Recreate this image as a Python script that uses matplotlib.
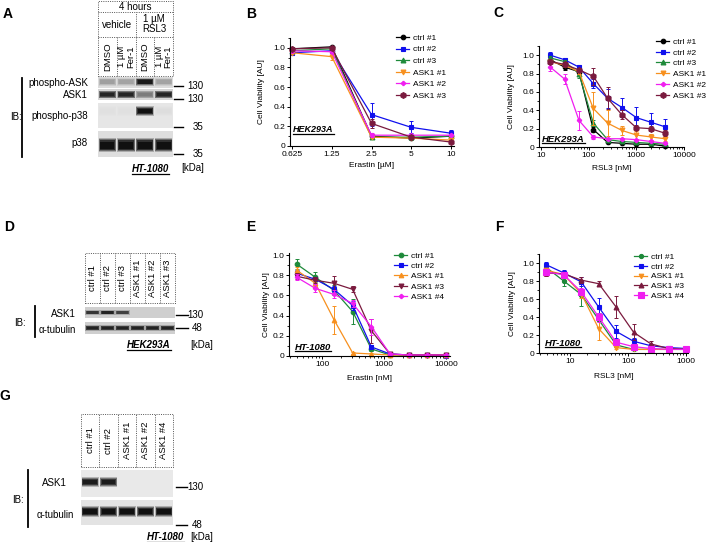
import matplotlib
matplotlib.use("Agg")
import matplotlib.pyplot as plt
import numpy as np
from matplotlib.colors import to_rgb
from matplotlib.ticker import FixedFormatter, FixedLocator, LogLocator, MultipleLocator, NullLocator

plt.rcParams["font.family"] = ["Liberation Sans", "DejaVu Sans"]
plt.rcParams["axes.linewidth"] = 0.8

W, H = 708, 542

# ---------------- data ----------------
# A: western blot, HT-1080, 4 h
a_time = "4 hours"
a_treatments = ["vehicle", "1 µM\nRSL3"]
a_lanes = ["DMSO", "1 µM\nFer-1", "DMSO", "1 µM\nFer-1"]
a_blots = ["phospho-ASK", "ASK1", "phospho-p38", "p38"]
a_bands = [
    [0.30, 0.28, 0.95, 0.28],
    [0.90, 0.90, 0.45, 0.90],
    [0.03, 0.03, 1.00, 0.04],
    [1.00, 1.00, 1.00, 1.00],
]
a_kda = ["130", "130", "35", "35"]

# B: HEK293A, erastin [µM]
b_erastin = [0.625, 1.25, 2.5, 5, 10]
b_xticklabels = ["0.625", "1.25", "2.5", "5", "10"]
hek_names = ["ctrl #1", "ctrl #2", "ctrl #3", "ASK1 #1", "ASK1 #2", "ASK1 #3"]
b_mean = [
    [0.99, 1.01, 0.10, 0.08, 0.10],
    [0.95, 0.97, 0.32, 0.19, 0.13],
    [0.97, 0.99, 0.09, 0.09, 0.10],
    [0.95, 0.91, 0.09, 0.08, 0.06],
    [0.97, 0.96, 0.11, 0.11, 0.11],
    [0.99, 1.00, 0.23, 0.09, 0.04],
]
b_err = [
    [0.01, 0.01, 0.01, 0.01, 0.01],
    [0.02, 0.02, 0.12, 0.06, 0.03],
    [0.01, 0.01, 0.01, 0.01, 0.01],
    [0.01, 0.03, 0.01, 0.01, 0.01],
    [0.01, 0.01, 0.02, 0.01, 0.01],
    [0.01, 0.01, 0.05, 0.02, 0.01],
]

# C: HEK293A, RSL3 [nM]
c_rsl3 = [15.625, 31.25, 62.5, 125, 250, 500, 1000, 2000, 4000]
c_mean = [
    [0.95, 0.87, 0.82, 0.19, 0.05, 0.04, 0.03, 0.03, 0.01],
    [1.00, 0.95, 0.87, 0.69, 0.53, 0.43, 0.32, 0.27, 0.22],
    [0.97, 0.93, 0.80, 0.26, 0.08, 0.06, 0.05, 0.04, 0.03],
    [0.93, 0.89, 0.82, 0.42, 0.26, 0.18, 0.13, 0.11, 0.09],
    [0.87, 0.74, 0.29, 0.11, 0.09, 0.09, 0.08, 0.06, 0.04],
    [0.93, 0.90, 0.84, 0.77, 0.53, 0.35, 0.21, 0.20, 0.15],
]
c_err = [
    [0.03, 0.03, 0.02, 0.03, 0.01, 0.01, 0.01, 0.01, 0.01],
    [0.04, 0.02, 0.02, 0.05, 0.10, 0.10, 0.12, 0.10, 0.09],
    [0.02, 0.02, 0.05, 0.03, 0.02, 0.01, 0.01, 0.01, 0.01],
    [0.02, 0.02, 0.02, 0.18, 0.14, 0.05, 0.04, 0.03, 0.02],
    [0.04, 0.05, 0.10, 0.02, 0.01, 0.01, 0.01, 0.01, 0.01],
    [0.03, 0.03, 0.02, 0.09, 0.12, 0.05, 0.03, 0.03, 0.03],
]
c_xticks = [10, 100, 1000, 10000]
c_xticklabels = ["10", "100", "1000", "10000"]

# D: western blot, HEK293A
d_lanes = ["ctrl #1", "ctrl #2", "ctrl #3", "ASK1 #1", "ASK1 #2", "ASK1 #3"]
d_blots = ["ASK1", "α-tubulin"]
d_bands = [
    [0.80, 0.90, 0.75, 0.0, 0.0, 0.0],
    [0.90, 0.90, 0.90, 0.90, 0.90, 0.90],
]
d_kda = ["130", "48"]

# E: HT-1080, erastin [nM]
e_erastin = [39, 78, 156, 312.5, 625, 1250, 2500, 5000, 10000]
ht_names = ["ctrl #1", "ctrl #2", "ASK1 #1", "ASK1 #3", "ASK1 #4"]
e_mean = [
    [0.91, 0.78, 0.65, 0.44, 0.07, 0.01, 0.01, 0.01, 0.01],
    [0.82, 0.76, 0.66, 0.50, 0.09, 0.02, 0.01, 0.01, 0.00],
    [0.85, 0.72, 0.36, 0.03, 0.02, 0.01, 0.01, 0.01, 0.01],
    [0.79, 0.75, 0.72, 0.66, 0.25, 0.02, 0.01, 0.01, 0.01],
    [0.78, 0.67, 0.61, 0.52, 0.29, 0.02, 0.01, 0.01, 0.01],
]
e_err = [
    [0.05, 0.05, 0.05, 0.12, 0.02, 0.01, 0.01, 0.01, 0.01],
    [0.03, 0.02, 0.03, 0.04, 0.02, 0.01, 0.01, 0.01, 0.01],
    [0.03, 0.03, 0.14, 0.01, 0.01, 0.01, 0.01, 0.01, 0.01],
    [0.03, 0.03, 0.07, 0.03, 0.12, 0.01, 0.01, 0.01, 0.01],
    [0.03, 0.04, 0.04, 0.03, 0.08, 0.01, 0.01, 0.01, 0.01],
]
e_xticks = [100, 1000, 10000]
e_xticklabels = ["100", "1000", "10000"]

# F: HT-1080, RSL3 [nM]
f_rsl3 = [3.9, 7.8, 15.6, 31.25, 62.5, 125, 250, 500, 1000]
f_mean = [
    [0.95, 0.80, 0.65, 0.37, 0.09, 0.04, 0.04, 0.04, 0.04],
    [0.98, 0.89, 0.79, 0.51, 0.24, 0.13, 0.08, 0.06, 0.05],
    [0.92, 0.87, 0.66, 0.27, 0.06, 0.04, 0.04, 0.04, 0.04],
    [0.89, 0.88, 0.81, 0.77, 0.51, 0.23, 0.10, 0.05, 0.04],
    [0.90, 0.87, 0.68, 0.40, 0.12, 0.07, 0.05, 0.04, 0.04],
]
f_err = [
    [0.03, 0.06, 0.13, 0.08, 0.02, 0.01, 0.01, 0.01, 0.01],
    [0.03, 0.03, 0.05, 0.10, 0.07, 0.04, 0.02, 0.01, 0.01],
    [0.03, 0.03, 0.05, 0.12, 0.02, 0.01, 0.01, 0.01, 0.01],
    [0.03, 0.02, 0.03, 0.03, 0.12, 0.09, 0.03, 0.01, 0.01],
    [0.03, 0.03, 0.04, 0.05, 0.03, 0.02, 0.01, 0.01, 0.01],
]
f_xticks = [10, 100, 1000]
f_xticklabels = ["10", "100", "1000"]

# G: western blot, HT-1080
g_lanes = ["ctrl #1", "ctrl #2", "ASK1 #1", "ASK1 #2", "ASK1 #4"]
g_blots = ["ASK1", "α-tubulin"]
g_bands = [
    [0.95, 0.95, 0.0, 0.0, 0.0],
    [1.00, 1.00, 1.00, 1.00, 1.00],
]
g_kda = ["130", "48"]

y_ticks = [0, 0.2, 0.4, 0.6, 0.8, 1.0]
y_ticklabels = ["0", "0.2", "0.4", "0.6", "0.8", "1.0"]

# ---------------- styles ----------------
BLACK, BLUE, GREEN = "#000000", "#1010ee", "#1e8a3a"
ORANGE, MAGENTA, MAROON = "#f7901e", "#f01ef0", "#7a1a3e"
hek_styles = {
    "ctrl #1": (BLACK, "o", 3.3),
    "ctrl #2": (BLUE, "s", 3.3),
    "ctrl #3": (GREEN, "^", 3.5),
    "ASK1 #1": (ORANGE, "v", 3.5),
    "ASK1 #2": (MAGENTA, "P", 3.0),
    "ASK1 #3": (MAROON, "h", 4.2),
}
e_styles = {
    "ctrl #1": (GREEN, "o", 3.3),
    "ctrl #2": (BLUE, "s", 3.3),
    "ASK1 #1": (ORANGE, "^", 3.3),
    "ASK1 #3": (MAROON, "v", 3.5),
    "ASK1 #4": (MAGENTA, "P", 3.0),
}
f_styles = {
    "ctrl #1": (GREEN, "o", 3.0),
    "ctrl #2": (BLUE, "s", 3.3),
    "ASK1 #1": (ORANGE, "v", 3.3),
    "ASK1 #3": (MAROON, "^", 3.5),
    "ASK1 #4": (MAGENTA, "s", 4.0),
}
DOT = dict(color="#555555", lw=0.7, ls=(0, (1, 1.3)), clip_on=False)

fig = plt.figure(figsize=(W / 100, H / 100), dpi=100)


def px_axes(x0, y0, x1, y1):
    return fig.add_axes([x0 / W, 1 - y1 / H, (x1 - x0) / W, (y1 - y0) / H])


# overlay in pixel coordinates for labels and annotations
ov = px_axes(0, 0, W, H)
ov.set_xlim(0, W)
ov.set_ylim(H, 0)
ov.axis("off")
ov.set_zorder(10)

underlines = []


def cell_label(x, y, s, size):
    t = ov.text(x, y, s, fontsize=size, fontweight="bold", style="italic", ha="left", va="center")
    underlines.append(t)


for letter, x, y in [("A", 8, 14), ("B", 251, 14), ("C", 498, 13), ("D", 9, 227),
                     ("E", 251, 227), ("F", 499, 227), ("G", 5, 396)]:
    ov.text(x, y, letter, fontsize=10, fontweight="bold", ha="center", va="center")


def strip(x0, y0, x1, y1, bands, band_h, center, bg):
    ax = px_axes(x0, y0, x1, y1)
    n = len(bands)
    ax.set_xlim(0, n)
    ax.set_ylim(0, 1)
    ax.set_facecolor(bg)
    bg_rgb = np.array(to_rgb(bg))
    dark = np.array(to_rgb("#101010"))
    lanes = np.arange(n) + 0.5
    # soft edged bands: wide/faint layer first, narrow/dark core last
    for width, hmul, depth in [(0.94, 1.45, 0.25), (0.9, 1.2, 0.55), (0.84, 1.0, 0.85), (0.74, 0.7, 1.0)]:
        cols = [tuple(bg_rgb + (dark - bg_rgb) * v * depth) for v in bands]
        h = band_h * hmul
        ax.bar(lanes, h, bottom=center - h / 2, width=width, color=cols, lw=0)
    ax.set_xticks([])
    ax.set_yticks([])
    for s in ax.spines.values():
        s.set_visible(False)
    return ax


def lane_header(x0, y0, x1, y1, lanes, size):
    ax = px_axes(x0, y0, x1, y1)
    n = len(lanes)
    ax.set_xlim(0, n)
    ax.set_ylim(0, 1)
    ax.axis("off")
    ax.plot([0, n, n, 0, 0], [0, 0, 1, 1, 0], **DOT)
    for i in range(1, n):
        ax.plot([i, i], [0, 1], **DOT)
    for i, lab in enumerate(lanes):
        ax.text(i + 0.5, 0.5, lab, rotation=90, ha="center", va="center", fontsize=size,
                multialignment="center", linespacing=1.0)
    return ax


def kda_marks(x0, x1, ys, labels, xtext):
    for y, lab in zip(ys, labels):
        ov.plot([x0, x1], [y, y], color="black", lw=1.0)
        ov.text(xtext, y, lab, fontsize=7, ha="right", va="center")


# ---------------- panel A ----------------
hA = px_axes(98, 1, 173, 76)
hA.set_xlim(0, 4)
hA.set_ylim(0, 1)
hA.axis("off")
r1, r2 = 1 - 11 / 75, 1 - 36 / 75
hA.plot([0, 4, 4, 0, 0], [0, 0, 1, 1, 0], **DOT)
hA.plot([0, 4], [r1, r1], **DOT)
hA.plot([0, 4], [r2, r2], **DOT)
hA.plot([2, 2], [r2, r1], **DOT)
for i in range(1, 4):
    hA.plot([i, i], [0, r2], **DOT)
hA.text(2, (1 + r1) / 2, a_time, ha="center", va="center", fontsize=7)
for i, lab in enumerate(a_treatments):
    hA.text(2 * i + 1, (r1 + r2) / 2, lab, ha="center", va="center", fontsize=7, linespacing=1.0)
for i, lab in enumerate(a_lanes):
    hA.text(i + 0.5, r2 / 2, lab, rotation=90, ha="center", va="center", fontsize=6.8,
            multialignment="center", linespacing=0.95)

a_layout = [(77, 88, 0.45, 0.55, "#dcdcdc"), (89, 100, 0.5, 0.5, "#d5d5d5"),
            (103, 128, 0.26, 0.68, "#e6e6e6"), (131, 157, 0.38, 0.45, "#dedede")]
a_label_y = [83, 95, 116, 143]
for (y0, y1, bh, c, bg), bands, name, ly in zip(a_layout, a_bands, a_blots, a_label_y):
    strip(98, y0, 173, y1, bands, bh, c, bg)
    ov.text(88, ly, name, fontsize=7, ha="right", va="center")
ov.plot([22, 22], [78, 157], color="black", lw=1.3)
ov.text(10, 117, "IB:", fontsize=7, ha="left", va="center")
kda_marks(174, 183, [86, 99, 127, 154], a_kda, 203)
ov.text(181, 168, "[kDa]", fontsize=7, ha="left", va="center")
cell_label(132, 169, "HT-1080", 7)

# ---------------- panel D ----------------
lane_header(85, 253, 175, 303, d_lanes, 6.8)
d_layout = [(307, 318, 0.28, 0.5, "#cfcfcf"), (322, 334, 0.32, 0.5, "#cfcfcf")]
d_label_y = [314, 330]
for (y0, y1, bh, c, bg), bands, name, ly in zip(d_layout, d_bands, d_blots, d_label_y):
    strip(85, y0, 175, y1, bands, bh, c, bg)
    ov.text(76, ly, name, fontsize=7, ha="right", va="center")
ov.plot([35, 35], [306, 337], color="black", lw=1.3)
ov.text(14, 323, "IB:", fontsize=7, ha="left", va="center")
kda_marks(176, 188, [315, 328], d_kda, 203)
ov.text(190, 345, "[kDa]", fontsize=7, ha="left", va="center")
cell_label(127, 345, "HEK293A", 7)

# ---------------- panel G ----------------
lane_header(81, 414, 173, 467, g_lanes, 6.8)
g_layout = [(470, 497, 0.24, 0.56, "#e9e9e9"), (500, 525, 0.3, 0.55, "#e3e3e3")]
g_label_y = [483, 515]
g_label_x = [67, 74]
for (y0, y1, bh, c, bg), bands, name, ly, lx in zip(g_layout, g_bands, g_blots, g_label_y, g_label_x):
    strip(81, y0, 173, y1, bands, bh, c, bg)
    ov.text(lx, ly, name, fontsize=7, ha="right", va="center")
ov.plot([28, 28], [470, 527], color="black", lw=1.3)
ov.text(12, 500, "IB:", fontsize=7, ha="left", va="center")
kda_marks(176, 187, [487, 525], g_kda, 203)
ov.text(190, 537, "[kDa]", fontsize=7, ha="left", va="center")
cell_label(147, 537, "HT-1080", 7)


# ---------------- viability curves ----------------
def curve_panel(box, conc, means, errs, names, styles, ylim, xlim, base, xticks, xticklabels,
                xlabel, legend_xy, spacing, ypad, xpad):
    ax = px_axes(*box)
    for name, m, e in zip(names, means, errs):
        color, marker, ms = styles[name]
        ax.errorbar(conc, m, yerr=e, fmt="none", ecolor=color, elinewidth=0.7,
                    capsize=1.6, capthick=0.7, clip_on=False)
        ax.plot(conc, m, color=color, marker=marker, ms=ms, lw=0.9, mec=color,
                mew=0.8, label=name, clip_on=False)
    ax.set_xscale("log", base=base)
    ax.set_xlim(*xlim)
    ax.set_ylim(*ylim)
    ax.xaxis.set_major_locator(FixedLocator(xticks))
    ax.xaxis.set_major_formatter(FixedFormatter(xticklabels))
    if base == 10:
        ax.xaxis.set_minor_locator(LogLocator(base=10, subs=np.arange(2, 10)))
    else:
        ax.xaxis.set_minor_locator(NullLocator())
    ax.set_yticks(y_ticks)
    ax.set_yticklabels(y_ticklabels)
    ax.yaxis.set_minor_locator(MultipleLocator(0.1))
    ax.set_facecolor("none")
    for s in ("top", "right"):
        ax.spines[s].set_visible(False)
    ax.tick_params(which="major", length=2.5, width=0.7, pad=1, labelsize=6)
    ax.tick_params(which="minor", length=1.5, width=0.6)
    ax.set_ylabel("Cell Viability [AU]", fontsize=6, labelpad=ypad)
    ax.set_xlabel(xlabel, fontsize=6, labelpad=xpad)
    ax.legend(loc="upper left", bbox_to_anchor=(legend_xy[0] / W, 1 - legend_xy[1] / H),
              bbox_transform=fig.transFigure, frameon=False, fontsize=6, handlelength=1.6,
              handletextpad=0.45, labelspacing=spacing, borderpad=0, borderaxespad=0,
              numpoints=1)
    return ax


curve_panel((290, 38, 454, 146), b_erastin, b_mean, b_err, hek_names, hek_styles,
            (0, 1.1), (0.625 * 2 ** (-2 / 40), 10 * 2 ** (3 / 40)), 2,
            b_erastin, b_xticklabels, "Erastin [µM]", (396, 34), 0.45, 6, 3)
cell_label(293, 130, "HEK293A", 6.5)

curve_panel((539, 46, 684, 147), c_rsl3, c_mean, c_err, hek_names, hek_styles,
            (0, 1.1), (10 ** (1 - 2 / 47), 10000), 10,
            c_xticks, c_xticklabels, "RSL3 [nM]", (656, 38), 0.35, 5, 4.5)
cell_label(542, 139, "HEK293A", 6.8)

curve_panel((289, 253, 450, 356), e_erastin, e_mean, e_err, ht_names, e_styles,
            (0, 1.02), (10 ** (2 - 33 / 62), 10 ** (4 + 4 / 62)), 10,
            e_xticks, e_xticklabels, "Erastin [nM]", (394, 252), 0.29, 1.5, 5)
cell_label(295, 347, "HT-1080", 6.8)

curve_panel((539, 254, 688, 353), f_rsl3, f_mean, f_err, ht_names, f_styles,
            (0, 1.1), (10 ** (1 - 31 / 58), 10 ** (3 + 2 / 58)), 10,
            f_xticks, f_xticklabels, "RSL3 [nM]", (634, 253), 0.24, 4.5, 5.5)
cell_label(545, 343, "HT-1080", 6.8)

# underline the cell line names
fig.canvas.draw()
inv = ov.transData.inverted()
for t in underlines:
    bb = t.get_window_extent()
    (xa, ya), (xb, yb) = inv.transform([[bb.x0, bb.y0], [bb.x1, bb.y1]])
    ov.plot([xa, xb], [max(ya, yb) - 0.5, max(ya, yb) - 0.5], color="black", lw=0.9)

fig.savefig("out.png", dpi=100)
